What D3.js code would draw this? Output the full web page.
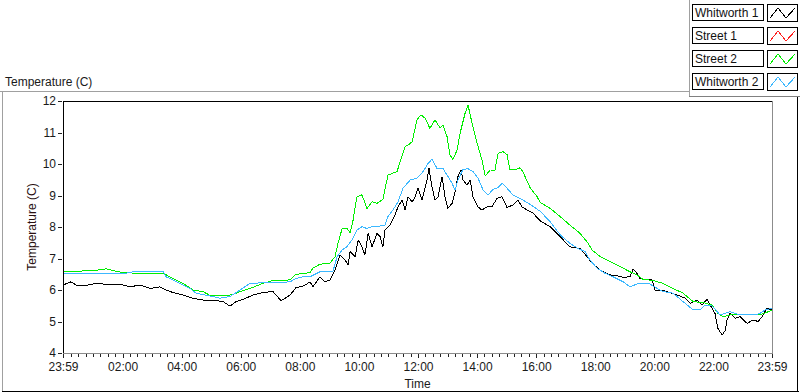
<!DOCTYPE html>
<html>
<head>
<meta charset="utf-8">
<script src="https://cdn.jsdelivr.net/npm/d3@7"></script>
<style>
  html, body { margin: 0; padding: 0; background: #fff; }
  svg { display: block; font-family: "Liberation Sans", Arial, sans-serif; }
</style>
</head>
<body>
<svg id="chart" width="800" height="392"></svg>
<script>
// ---------------- DATA ----------------
const seriesNames = ["Whitworth 1", "Street 1", "Street 2", "Whitworth 2"];
const seriesColors = ["#000000", "#ff2020", "#00ee00", "#3cb8ff"];
const xTickLabels = ["23:59", "02:00", "04:00", "06:00", "08:00", "10:00", "12:00",
                     "14:00", "16:00", "18:00", "20:00", "22:00", "23:59"];
const yTicks = [4, 5, 6, 7, 8, 9, 10, 11, 12];

// hours elapsed since 23:59 and temperatures (C)
const whitworth1Hours = [0, 0.27, 0.44, 0.68, 1.12, 1.69, 1.93, 2.27, 2.61, 2.95, 3.28, 3.49, 3.72, 4.06, 4.40, 4.74, 5.08, 5.42, 5.65, 5.86, 6.09, 6.43, 6.77, 7.11, 7.38, 7.69, 7.89,
  8.02, 8.19, 8.36, 8.46, 8.70, 8.87, 9.04, 9.21, 9.38, 9.55, 9.65, 9.72, 9.89, 9.99, 10.12, 10.22, 10.33, 10.46, 10.63, 10.73, 10.83, 10.90, 11.07, 11.24, 11.34, 11.48, 11.58, 11.68, 11.82, 11.92, 12.02, 12.15, 12.32, 12.39, 12.49, 12.59, 12.70, 12.83, 12.93, 13.03, 13.17, 13.27, 13.37, 13.47, 13.54, 13.68, 13.78, 13.88, 14.05, 14.18, 14.35, 14.52, 14.69, 14.86, 15.03, 15.23, 15.40, 15.54, 15.71,
  15.91, 16.15, 16.49, 16.83, 17.16, 17.50, 17.74, 17.91, 18.18, 18.52, 18.75, 18.96, 19.19, 19.30, 19.43, 19.53, 19.77, 19.94, 20.04, 20.21, 20.45, 20.79, 21.06, 21.23, 21.46, 21.63, 21.80, 21.97, 22.07, 22.17, 22.31, 22.41, 22.48, 22.58, 22.75, 22.92, 23.16, 23.36, 23.53, 23.66, 23.83, 24.0];
const whitworth1Temps = [6.16, 6.26, 6.16, 6.13, 6.21, 6.16, 6.18, 6.10, 6.16, 6.05, 6.10, 6.00, 5.92, 5.84, 5.74, 5.68, 5.68, 5.63, 5.49, 5.63, 5.70, 5.84, 5.92, 5.95, 5.66, 5.84, 6.08,
  6.10, 6.15, 6.26, 6.10, 6.42, 6.26, 6.32, 6.63, 7.11, 6.95, 6.79, 7.22, 7.06, 7.59, 7.37, 7.11, 7.80, 7.37, 7.80, 7.70, 7.37, 7.90, 8.06, 8.38, 8.64, 8.86, 8.54, 8.96, 8.80, 8.96, 9.23, 8.86, 9.49, 9.86, 9.28, 8.86, 8.96, 9.60, 8.96, 8.59, 8.75, 9.12, 9.60, 9.81, 9.49, 9.33, 9.49, 8.96, 8.64, 8.54, 8.64, 8.64, 8.91, 8.96, 8.62, 8.70, 8.86, 8.64, 8.54,
  8.44, 8.20, 8.01, 7.69, 7.37, 7.32, 7.06, 6.85, 6.63, 6.48, 6.45, 6.40, 6.42, 6.66, 6.53, 6.37, 6.32, 6.32, 6.00, 6.00, 5.95, 5.84, 5.74, 5.58, 5.68, 5.52, 5.70, 5.42, 5.26, 4.78, 4.57, 4.70, 5.05, 5.26, 5.10, 5.15, 4.94, 5.05, 5.00, 5.15, 5.42, 5.37];

const street1Hours = [];
const street1Temps = [];

const street2Hours = [0, 0.57, 1.08, 1.46, 1.76, 2.03, 2.61, 3.39, 3.72, 4.06, 4.40, 4.74, 5.01, 5.48, 5.76, 5.99, 6.33, 6.77, 7.11, 7.69, 7.89,
  8.02, 8.36, 8.46, 8.70, 9.04, 9.21, 9.31, 9.45, 9.61, 9.72, 9.82, 9.95, 10.12, 10.29, 10.46, 10.63, 10.83, 11.00, 11.31, 11.41, 11.58, 11.68, 11.82, 11.98, 12.12, 12.26, 12.42, 12.59, 12.76, 12.86, 13.00, 13.10, 13.20, 13.34, 13.44, 13.61, 13.71, 13.81, 13.88, 14.02, 14.18, 14.29, 14.46, 14.62, 14.73, 14.90, 15.03, 15.13, 15.30, 15.47, 15.57, 15.81, 16.05, 16.15,
  16.49, 16.83, 17.16, 17.50, 17.74, 17.91, 18.18, 18.52, 18.86, 19.19, 19.43, 19.63, 19.97, 20.31, 20.65, 20.99, 21.33, 21.67, 21.97, 22.17, 22.34, 22.58, 23.60, 23.87, 24.0];
const street2Temps = [6.58, 6.60, 6.62, 6.67, 6.60, 6.55, 6.53, 6.53, 6.37, 6.21, 6.00, 5.95, 5.81, 5.81, 5.86, 5.95, 6.05, 6.21, 6.30, 6.32, 6.50,
  6.51, 6.55, 6.69, 6.82, 6.85, 7.06, 7.48, 7.96, 7.96, 7.82, 8.22, 8.96, 9.02, 8.59, 8.80, 8.75, 8.88, 9.65, 9.76, 10.07, 10.55, 10.60, 10.71, 11.40, 11.56, 11.45, 11.13, 11.40, 11.15, 11.24, 10.87, 10.29, 10.15, 10.44, 10.97, 11.61, 11.87, 11.45, 11.18, 10.66, 10.13, 9.62, 9.81, 9.80, 10.34, 10.39, 10.30, 9.81, 9.81, 9.88, 9.75, 9.25, 8.96, 8.78,
  8.59, 8.33, 8.06, 7.80, 7.53, 7.27, 7.06, 6.90, 6.74, 6.58, 6.48, 6.34, 6.30, 6.21, 6.05, 5.90, 5.63, 5.60, 5.52, 5.26, 5.15, 5.21, 5.21, 5.31, 5.37];

const whitworth2Hours = [0, 0.57, 2.03, 2.37, 3.39, 3.49, 3.72, 4.06, 4.30, 4.50, 4.98, 5.32, 5.65, 5.99, 6.33, 6.77, 7.21, 7.69, 7.89, 8.13,
  8.36, 8.70, 9.14, 9.28, 9.45, 9.61, 9.78, 9.95, 10.12, 10.29, 10.49, 10.73, 10.90, 11.00, 11.17, 11.34, 11.51, 11.75, 11.98, 12.19, 12.36, 12.49, 12.66, 12.86, 13.00, 13.17, 13.27, 13.37, 13.54, 13.71, 13.88, 14.05, 14.22, 14.39, 14.56, 14.73, 14.86, 15.03, 15.23, 15.47, 15.81, 16.15,
  16.49, 16.83, 17.16, 17.43, 17.67, 17.84, 18.08, 18.35, 18.62, 18.96, 19.19, 19.43, 19.63, 19.87, 20.11, 20.31, 20.65, 20.99, 21.33, 21.56, 21.73, 21.97, 22.24, 22.58, 22.92, 23.43, 23.60, 23.77, 24.0];
const whitworth2Temps = [6.51, 6.51, 6.51, 6.58, 6.58, 6.42, 6.32, 6.16, 6.05, 5.90, 5.81, 5.74, 5.79, 6.00, 6.21, 6.23, 6.23, 6.26, 6.37, 6.42,
  6.42, 6.58, 6.60, 7.06, 7.27, 7.37, 7.59, 7.90, 8.01, 7.95, 8.03, 8.03, 8.06, 8.33, 8.54, 8.80, 9.23, 9.49, 9.55, 9.76, 10.02, 10.15, 9.86, 9.86, 9.65, 9.39, 9.17, 9.49, 9.83, 9.85, 9.76, 9.55, 9.17, 9.02, 9.20, 9.25, 9.39, 9.23, 9.02, 8.91, 8.72, 8.50,
  8.17, 7.75, 7.48, 7.32, 7.22, 6.95, 6.69, 6.53, 6.42, 6.26, 6.10, 6.19, 6.20, 6.19, 6.05, 5.95, 5.90, 5.63, 5.37, 5.37, 5.52, 5.50, 5.21, 5.31, 5.21, 5.21, 5.26, 5.37, 5.42];

const seriesHours = [whitworth1Hours, street1Hours, street2Hours, whitworth2Hours];
const seriesTemps = [whitworth1Temps, street1Temps, street2Temps, whitworth2Temps];

// ---------------- CHART ----------------
const svg = d3.select("#chart");
const plot = { left: 63, right: 772, top: 101, bottom: 353 };
const start = new Date(2000, 0, 1, 23, 59);
const end = new Date(start.getTime() + 24 * 3600 * 1000);
const toDate = h => new Date(start.getTime() + h * 3600 * 1000);

const x = d3.scaleTime().domain([start, end]).range([plot.left, plot.right]);
const y = d3.scaleLinear().domain([4, 12]).range([plot.bottom, plot.top]);

// panel frame
const frame = svg.append("g").attr("shape-rendering", "crispEdges");
frame.append("line").attr("x1", 0).attr("x2", 690).attr("y1", 91.5).attr("y2", 91.5).attr("stroke", "#a0a0a0");
frame.append("line").attr("x1", 2.5).attr("x2", 2.5).attr("y1", 91).attr("y2", 391).attr("stroke", "#a0a0a0");
frame.append("line").attr("x1", 2).attr("x2", 799).attr("y1", 391.5).attr("y2", 391.5).attr("stroke", "#000");
frame.append("line").attr("x1", 797.5).attr("x2", 797.5).attr("y1", 97).attr("y2", 392).attr("stroke", "#000");
frame.append("line").attr("x1", 689.5).attr("x2", 689.5).attr("y1", 0).attr("y2", 97).attr("stroke", "#a0a0a0");
frame.append("line").attr("x1", 689).attr("x2", 800).attr("y1", 96.5).attr("y2", 96.5).attr("stroke", "#808080");

// title
svg.append("text").attr("x", 5).attr("y", 86).attr("font-size", 12).attr("fill", "#1a1a1a")
  .text("Temperature (C)");

// x axis ticks
const tickDates = xTickLabels.map((lab, i) => {
  const [hh, mm] = lab.split(":").map(Number);
  return new Date(2000, 0, i === 0 ? 1 : 2, hh, mm);
});
const minorDates = d3.timeMinute.every(15).range(start, end)
  .filter(d => !tickDates.some(t => Math.abs(t - d) < 5 * 60000));

const xMinor = svg.append("g").attr("transform", `translate(0,${plot.bottom + 1})`)
  .call(d3.axisBottom(x).tickValues(minorDates).tickSize(3).tickFormat(""));
xMinor.select(".domain").remove();
xMinor.selectAll("line").attr("stroke", "#222").attr("shape-rendering", "crispEdges");

const xMajor = svg.append("g").attr("transform", `translate(0,${plot.bottom})`)
  .call(d3.axisBottom(x).tickValues(tickDates).tickSize(5).tickPadding(4)
    .tickFormat((d, i) => xTickLabels[i]));
xMajor.select(".domain").remove();
xMajor.selectAll("line").attr("stroke", "#222").attr("shape-rendering", "crispEdges");
xMajor.selectAll("text").attr("font-size", 12).attr("fill", "#1a1a1a")
  .attr("font-family", "Liberation Sans, Arial, sans-serif");

// y axis
const yAx = svg.append("g").attr("transform", `translate(${plot.left - 1},0)`)
  .call(d3.axisLeft(y).tickValues(yTicks).tickSize(4).tickPadding(2).tickFormat(d3.format("d")));
yAx.select(".domain").remove();
yAx.selectAll("line").attr("stroke", "#222").attr("shape-rendering", "crispEdges");
yAx.selectAll("text").attr("font-size", 12).attr("fill", "#1a1a1a")
  .attr("font-family", "Liberation Sans, Arial, sans-serif");

// axis titles
svg.append("text").attr("transform", `translate(36,${(plot.top + plot.bottom) / 2}) rotate(-90)`)
  .attr("text-anchor", "middle").attr("font-size", 12).attr("fill", "#2a1010")
  .text("Temperature (C)");
svg.append("text").attr("x", (plot.left + plot.right) / 2).attr("y", 388)
  .attr("text-anchor", "middle").attr("font-size", 12).attr("fill", "#1a1a1a").text("Time");

// plot area clip
const clipId = "plotclip";
svg.append("clipPath").attr("id", clipId).append("rect")
  .attr("x", plot.left).attr("y", plot.top).attr("width", plot.right - plot.left).attr("height", plot.bottom - plot.top);

const lineGen = d3.line().x(d => x(toDate(d[0]))).y(d => y(d[1]));
const linesG = svg.append("g").attr("clip-path", `url(#${clipId})`);
seriesHours.forEach((hrs, si) => {
  const pts = hrs.map((h, i) => [h, seriesTemps[si][i]]);
  if (!pts.length) return;
  linesG.append("path").datum(pts)
    .attr("d", lineGen)
    .attr("fill", "none")
    .attr("stroke", seriesColors[si])
    .attr("stroke-width", 1)
    .attr("shape-rendering", "crispEdges")
    .attr("stroke-linejoin", "round");
});

const border = svg.append("g").attr("shape-rendering", "crispEdges");
border.append("line").attr("x1", plot.left + 0.5).attr("x2", plot.left + 0.5)
  .attr("y1", plot.top).attr("y2", plot.bottom).attr("stroke", "#000");
border.append("line").attr("x1", plot.left).attr("x2", plot.right)
  .attr("y1", plot.top + 0.5).attr("y2", plot.top + 0.5).attr("stroke", "#000");
border.append("line").attr("x1", plot.right + 0.5).attr("x2", plot.right + 0.5)
  .attr("y1", plot.top).attr("y2", plot.bottom + 1).attr("stroke", "#8c8c8c");
border.append("line").attr("x1", plot.left).attr("x2", plot.right + 1)
  .attr("y1", plot.bottom + 0.5).attr("y2", plot.bottom + 0.5).attr("stroke", "#8c8c8c");

// legend
const legend = svg.append("g");
seriesNames.forEach((name, i) => {
  const top = 4 + i * 23;
  const g = legend.append("g").attr("transform", `translate(0,${top})`);
  g.append("rect").attr("x", 692.5).attr("y", 0.5).attr("width", 71).attr("height", 16)
    .attr("fill", "#fff").attr("stroke", "#000").attr("shape-rendering", "crispEdges");
  g.append("text").attr("x", 695).attr("y", 13).attr("font-size", 12).attr("fill", "#111").text(name);
  g.append("rect").attr("x", 767.5).attr("y", 0.5).attr("width", 30).attr("height", 17)
    .attr("fill", "#fff").attr("stroke", "#000").attr("shape-rendering", "crispEdges");
  g.append("polyline")
    .attr("points", [[770, 14], [778, 4], [786, 14], [795, 4]].map(p => p.join(",")).join(" "))
    .attr("fill", "none").attr("stroke", seriesColors[i]).attr("stroke-width", 1)
    .attr("shape-rendering", "crispEdges");
});
</script>
</body>
</html>
